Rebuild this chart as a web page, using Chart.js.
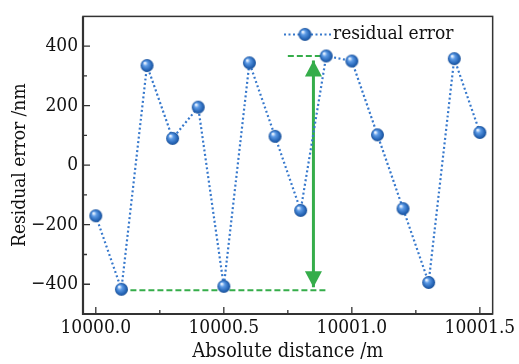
<!DOCTYPE html>
<html>
<head>
<meta charset="utf-8">
<script src="https://cdn.jsdelivr.net/npm/chart.js@4.4.0/dist/chart.umd.min.js"></script>
<style>
  html, body { margin: 0; padding: 0; background: #fff; }
  #wrap { width: 519px; height: 364px; }
</style>
</head>
<body>
<div id="wrap"><canvas id="c" width="519" height="364"></canvas></div>
<script>
// data
const distances = [10000.0, 10000.1, 10000.2, 10000.3, 10000.4, 10000.5, 10000.6, 10000.7,
                   10000.8, 10000.9, 10001.0, 10001.1, 10001.2, 10001.3, 10001.4, 10001.5];
const residuals = [-170, -417, 335, 90, 195, -407, 344, 97, -152, 367, 350, 102, -146, -394, 358, 110];

const xTicks = [10000.0, 10000.5, 10001.0, 10001.5];
const xMinorTicks = [10000.25, 10000.75, 10001.25];
const yTicks = [-400, -200, 0, 200, 400];
const yMinorTicks = [-300, -100, 100, 300];

// green marks: peak-to-peak guide lines and the arrow
const lowGuideX = [10000.1, 10000.9];
const lowGuideY = [-420, -420];
const highGuideX = [10000.75, 10000.9];
const highGuideY = [367, 367];
const arrowX = [10000.85, 10000.85];
const arrowY = [352, -410];

const FONT = "'DejaVu Serif Condensed', 'Liberation Serif', serif";
const BLUE = '#3678cc';
const GREEN = '#35ad4a';

// shiny ball marker
function makeBall(r) {
  const cv = document.createElement('canvas');
  cv.width = r * 2 + 2;
  cv.height = r * 2 + 2;
  const g = cv.getContext('2d');
  const c = r + 1;
  const grad = g.createRadialGradient(c - r * 0.35, c - r * 0.4, r * 0.1, c, c, r);
  grad.addColorStop(0, '#e8f2ff');
  grad.addColorStop(0.3, '#5d9be6');
  grad.addColorStop(0.8, '#2463b4');
  grad.addColorStop(1, '#1a4f95');
  g.fillStyle = grad;
  g.beginPath();
  g.arc(c, c, r, 0, Math.PI * 2);
  g.fill();
  return cv;
}
const ball = makeBall(6.5);

const toPts = (xs, ys) => xs.map((x, i) => ({ x: x, y: ys[i] }));

// frame, inside ticks, arrow heads and legend
const extras = {
  id: 'extras',
  afterDatasetsDraw(chart) {
    const ctx = chart.ctx;
    const a = chart.chartArea;
    const xs = chart.scales.x, ys = chart.scales.y;
    ctx.save();

    // arrow heads
    ctx.fillStyle = GREEN;
    const ax = xs.getPixelForValue(arrowX[0]);
    const top = ys.getPixelForValue(arrowY[0]);
    const bot = ys.getPixelForValue(arrowY[1]);
    ctx.beginPath();
    ctx.moveTo(ax, top); ctx.lineTo(ax - 8.5, top + 16); ctx.lineTo(ax + 8.5, top + 16); ctx.closePath();
    ctx.fill();
    ctx.beginPath();
    ctx.moveTo(ax, bot); ctx.lineTo(ax - 8.5, bot - 16); ctx.lineTo(ax + 8.5, bot - 16); ctx.closePath();
    ctx.fill();

    // ticks
    ctx.strokeStyle = '#333';
    ctx.lineWidth = 1.3;
    ctx.beginPath();
    xTicks.forEach(v => { const p = xs.getPixelForValue(v); ctx.moveTo(p, a.bottom); ctx.lineTo(p, a.bottom - 7); });
    xMinorTicks.forEach(v => { const p = xs.getPixelForValue(v); ctx.moveTo(p, a.bottom); ctx.lineTo(p, a.bottom - 4); });
    yTicks.forEach(v => { const p = ys.getPixelForValue(v); ctx.moveTo(a.left, p); ctx.lineTo(a.left + 7, p); });
    yMinorTicks.forEach(v => { const p = ys.getPixelForValue(v); ctx.moveTo(a.left, p); ctx.lineTo(a.left + 4, p); });
    ctx.stroke();

    // frame
    ctx.lineWidth = 1.5;
    ctx.strokeRect(a.left, a.top, a.right - a.left, a.bottom - a.top);
    ctx.lineWidth = 2.2;
    ctx.beginPath();
    ctx.moveTo(a.left, a.top); ctx.lineTo(a.left, a.bottom); ctx.lineTo(a.right, a.bottom);
    ctx.stroke();

    // legend
    const ly = a.top + 18;
    ctx.strokeStyle = BLUE;
    ctx.lineWidth = 2;
    ctx.setLineDash([2, 2.5]);
    ctx.beginPath();
    ctx.moveTo(284, ly); ctx.lineTo(331, ly);
    ctx.stroke();
    ctx.setLineDash([]);
    ctx.drawImage(ball, 305 - ball.width / 2, ly - ball.height / 2);
    ctx.fillStyle = '#111';
    ctx.font = '19px ' + FONT;
    ctx.textBaseline = 'middle';
    ctx.fillText('residual error', 333, ly);
    ctx.restore();
  }
};

new Chart(document.getElementById('c'), {
  type: 'line',
  data: {
    datasets: [
      {
        label: 'residual error',
        data: toPts(distances, residuals),
        borderColor: BLUE,
        borderWidth: 2.2,
        borderDash: [2, 2.5],
        pointStyle: ball,
        tension: 0
      },
      {
        data: toPts(lowGuideX, lowGuideY),
        borderColor: GREEN, borderWidth: 2, borderDash: [6, 3], pointRadius: 0
      },
      {
        data: toPts(highGuideX, highGuideY),
        borderColor: GREEN, borderWidth: 2, borderDash: [6, 3], pointRadius: 0
      },
      {
        data: toPts(arrowX, arrowY),
        borderColor: GREEN, borderWidth: 3, pointRadius: 0
      }
    ]
  },
  options: {
    responsive: false,
    animation: false,
    layout: { padding: { top: 12, right: 26, left: 0, bottom: 0 } },
    plugins: { legend: { display: false }, tooltip: { enabled: false } },
    scales: {
      x: {
        type: 'linear',
        min: 9999.95,
        max: 10001.55,
        afterBuildTicks: s => { s.ticks = xTicks.map(v => ({ value: v })); },
        afterFit: s => { s.height = 50; },
        grid: { display: false, drawTicks: false },
        border: { display: false },
        ticks: { color: '#111', padding: 3, font: { family: FONT, size: 19 }, callback: v => v.toFixed(1) },
        title: { display: true, text: 'Absolute distance /m', color: '#111', padding: { top: 0, bottom: 0 }, font: { family: FONT, size: 20 } }
      },
      y: {
        min: -500,
        max: 500,
        afterBuildTicks: s => { s.ticks = yTicks.map(v => ({ value: v })); },
        afterFit: s => { s.width = 83; },
        grid: { display: false, drawTicks: false },
        border: { display: false },
        ticks: { color: '#111', padding: 5, font: { family: FONT, size: 19 }, callback: v => v < 0 ? '\u2212' + Math.abs(v) : String(v) },
        title: { display: true, text: 'Residual error /nm', color: '#111', padding: { top: 9, bottom: 0 }, font: { family: FONT, size: 19 } }
      }
    }
  },
  plugins: [extras]
});
</script>
</body>
</html>
